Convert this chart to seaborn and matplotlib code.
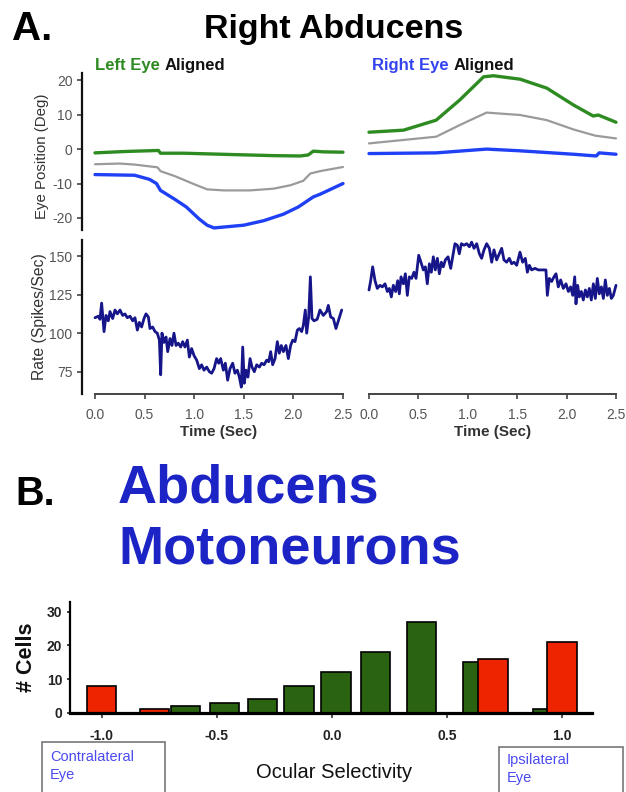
import numpy as np
import pandas as pd
import matplotlib
matplotlib.use("Agg")
import matplotlib.pyplot as plt
from matplotlib.patches import Rectangle
import seaborn as sns

# ---------------- data ----------------
# Left eye aligned: eye positions (deg)
le_green_t = [0, 0.3, 0.64, 0.66, 0.9, 1.4, 1.8, 2.07, 2.15, 2.2, 2.3, 2.5]
le_green_v = [-1.1, -0.7, -0.4, -1.2, -1.2, -1.6, -1.9, -2.0, -1.7, -0.6, -0.8, -0.9]
le_gray_t = [0, 0.25, 0.4, 0.63, 0.66, 0.8, 1.0, 1.13, 1.3, 1.56, 1.8, 1.97, 2.1, 2.17, 2.27, 2.5]
le_gray_v = [-4.4, -4.2, -4.5, -5.3, -6.4, -7.8, -10.2, -11.7, -12.0, -12.0, -11.5, -10.5, -9.2, -7.1, -6.4, -5.2]
le_blue_t = [0, 0.2, 0.4, 0.55, 0.62, 0.66, 0.8, 0.92, 1.05, 1.13, 1.2, 1.5, 1.7, 1.9, 2.05, 2.2, 2.27, 2.5]
le_blue_v = [-7.4, -7.5, -7.6, -8.8, -10, -12, -14.5, -16.8, -20.3, -22.1, -22.9, -22.1, -20.8, -18.9, -16.8, -13.9, -13.1, -10.0]

# Right eye aligned: eye positions (deg)
re_green_t = [0, 0.35, 0.68, 0.92, 1.16, 1.26, 1.53, 1.8, 2.07, 2.27, 2.32, 2.5]
re_green_v = [4.9, 5.5, 8.4, 14.3, 21.0, 21.3, 20.3, 17.7, 12.8, 9.6, 9.9, 7.8]
re_gray_t = [0, 0.68, 0.92, 1.19, 1.53, 1.8, 2.07, 2.29, 2.5]
re_gray_v = [1.65, 3.6, 7.0, 10.6, 9.9, 8.4, 5.7, 3.9, 3.1]
re_blue_t = [0, 0.68, 1.19, 1.53, 2.07, 2.3, 2.33, 2.5]
re_blue_v = [-1.3, -1.1, 0.0, -0.5, -1.5, -2.0, -1.1, -1.5]

# Firing rate (spikes/sec), left eye aligned
rl_t = [0.000, 0.034, 0.050, 0.067, 0.091, 0.111, 0.134, 0.151, 0.178, 0.202, 0.225, 0.252,
        0.279, 0.302, 0.326, 0.353, 0.380, 0.403, 0.427, 0.447, 0.470, 0.494, 0.514, 0.538,
        0.554, 0.581, 0.605, 0.628, 0.649, 0.662, 0.675, 0.696, 0.716, 0.733, 0.756, 0.776,
        0.796, 0.817, 0.840, 0.864, 0.884, 0.907, 0.931, 0.951, 0.974, 0.998, 1.025, 1.052,
        1.075, 1.099, 1.126, 1.153, 1.176, 1.200, 1.226, 1.247, 1.267, 1.294, 1.314, 1.337,
        1.361, 1.388, 1.411, 1.435, 1.455, 1.475, 1.489, 1.505, 1.522, 1.542, 1.563, 1.583,
        1.606, 1.630, 1.657, 1.680, 1.704, 1.731, 1.751, 1.771, 1.791, 1.815, 1.838, 1.858,
        1.878, 1.899, 1.925, 1.949, 1.972, 1.993, 2.016, 2.040, 2.060, 2.083, 2.100, 2.120,
        2.134, 2.154, 2.171, 2.187, 2.208, 2.240, 2.268, 2.302, 2.335, 2.352, 2.376, 2.403,
        2.429, 2.453, 2.487]
rl_v = [110, 111, 109, 119.5, 101, 111.5, 108, 114, 109.5, 115, 112.5, 115,
        111.5, 112.5, 110, 111, 108, 110, 102, 107, 104, 109.5, 112.5, 110.5,
        103, 104, 101, 100, 95.5, 73, 100, 94, 97.5, 88, 96.5, 92,
        100, 92, 93.5, 91, 94.5, 91, 95.5, 84.5, 90, 85.5, 82.5, 77,
        79.5, 76, 78, 75, 74, 77, 83.5, 80.5, 83.5, 76, 80.5, 69.5,
        77, 80.5, 74, 76, 71.5, 65, 91, 67.5, 76, 71.5, 83.5, 78,
        75, 79.5, 78, 80.5, 79.5, 82.5, 81.5, 88, 79.5, 83.5, 94.5, 87,
        92, 88, 92, 83.5, 92, 95.5, 94.5, 102, 103, 101, 105, 115,
        100, 110.5, 136.5, 109.5, 108, 109, 115, 111.5, 114, 118, 110.5, 109.5,
        103, 108, 115]

# Firing rate (spikes/sec), right eye aligned
rr_t = [0.000, 0.017, 0.037, 0.061, 0.084, 0.111, 0.135, 0.162, 0.186, 0.206, 0.226, 0.246,
        0.270, 0.290, 0.307, 0.324, 0.348, 0.368, 0.388, 0.408, 0.432, 0.455, 0.476, 0.503,
        0.526, 0.550, 0.570, 0.590, 0.611, 0.631, 0.651, 0.671, 0.692, 0.712, 0.732, 0.752,
        0.773, 0.800, 0.827, 0.847, 0.870, 0.894, 0.914, 0.935, 0.962, 0.989, 1.016, 1.039,
        1.063, 1.090, 1.117, 1.140, 1.164, 1.191, 1.218, 1.242, 1.265, 1.292, 1.319, 1.343,
        1.366, 1.393, 1.420, 1.444, 1.468, 1.495, 1.528, 1.555, 1.582, 1.603, 1.623, 1.646,
        1.680, 1.714, 1.758, 1.791, 1.805, 1.825, 1.849, 1.872, 1.893, 1.916, 1.940, 1.967,
        1.994, 2.018, 2.041, 2.062, 2.082, 2.095, 2.112, 2.129, 2.149, 2.169, 2.190, 2.210,
        2.230, 2.250, 2.271, 2.291, 2.311, 2.331, 2.352, 2.372, 2.392, 2.412, 2.433, 2.453,
        2.473, 2.500]
rr_v = [128, 134, 143, 134, 129, 131, 130, 132, 127, 129, 123.5, 131,
        127, 134, 125.5, 136.5, 132, 138.5, 124.5, 136.5, 135.5, 139.5, 135.5, 150.5,
        146, 141, 143, 132, 145, 139.5, 149.5, 141, 148.5, 138.5, 146, 143,
        147.5, 149.5, 142, 149.5, 158, 157, 151.5, 158, 157, 158, 156, 159,
        155, 158, 151.5, 148.5, 154, 158, 155, 146, 154, 147.5, 151.5, 155,
        147.5, 146, 148.5, 145, 146, 144, 152.5, 146, 148.5, 139.5, 144, 141,
        142, 141, 141, 141, 124.5, 135.5, 133.5, 136.5, 138.5, 130, 134.5, 129,
        132, 127, 130, 124.5, 136.5, 119, 131, 123.5, 127, 121.5, 128, 123.5,
        129, 121.5, 132, 122.5, 135.5, 125.5, 130, 122.5, 134.5, 124.5, 129, 122.5,
        124.5, 131]

# Histogram: ocular selectivity
green_centers = [-0.635, -0.467, -0.302, -0.142, 0.019, 0.191, 0.391, 0.636, 0.938]
green_counts = [2, 3, 4, 8, 12, 18, 27, 15, 1]
red_centers = [-1.0, -0.77, 0.70, 1.0]
red_counts = [8, 1, 16, 21]

time_ticks = [0.0, 0.5, 1.0, 1.5, 2.0, 2.5]
eye_ticks = [-20, -10, 0, 10, 20]
rate_ticks = [75, 100, 125, 150]
sel_ticks = [-1.0, -0.5, 0.0, 0.5, 1.0]

# ---------------- style ----------------
sns.set_theme(style="white")
plt.rcParams['font.family'] = ['Liberation Sans', 'DejaVu Sans']

W, H = 626, 792
fig = plt.figure(figsize=(W / 100, H / 100), dpi=100)
fig.patch.set_facecolor("white")


def ax_px(left, top, right, bottom):
    a = fig.add_axes([left / W, 1 - bottom / H, (right - left) / W, (bottom - top) / H])
    a.set_facecolor("none")
    return a


C_GREEN = "#2e8b22"
C_GRAY = "#9a9a9a"
C_BLUE = "#2040f5"
C_RATE = "#16168a"
OFF = 13 * 72 / 100  # outward spine offset in points

ax_el = ax_px(95, 73, 343, 230)
ax_er = ax_px(369, 73, 616, 230)
ax_rl = ax_px(95, 240, 343, 394)
ax_rr = ax_px(369, 240, 616, 394)
ax_h = ax_px(70, 601.7, 591.7, 712.7)


def trace(ax, t, v, color, lw):
    sns.lineplot(x=t, y=v, ax=ax, color=color, linewidth=lw, estimator=None,
                 sort=False, clip_on=False)


for ax, (gt, gv, yt, yv, bt, bv) in [
    (ax_el, (le_green_t, le_green_v, le_gray_t, le_gray_v, le_blue_t, le_blue_v)),
    (ax_er, (re_green_t, re_green_v, re_gray_t, re_gray_v, re_blue_t, re_blue_v)),
]:
    trace(ax, yt, yv, C_GRAY, 1.6)
    trace(ax, gt, gv, C_GREEN, 2.4)
    trace(ax, bt, bv, C_BLUE, 2.4)
    ax.set_xlim(0, 2.5)
    ax.set_ylim(-23.5, 22.1)
    for s in ["top", "right", "bottom"]:
        ax.spines[s].set_visible(False)
    ax.set_xticks([])
    ax.set_xlabel("")
    ax.set_ylabel("")

trace(ax_rl, rl_t, rl_v, C_RATE, 2.0)
trace(ax_rr, rr_t, rr_v, C_RATE, 2.0)
for ax in (ax_rl, ax_rr):
    ax.set_xlim(0, 2.5)
    ax.set_ylim(60.55, 160.4)
    for s in ["top", "right"]:
        ax.spines[s].set_visible(False)
    ax.spines["bottom"].set_color("#444444")
    ax.spines["bottom"].set_linewidth(1.4)
    ax.set_xticks(time_ticks)
    ax.set_xticklabels([f"{t:.1f}" for t in time_ticks])
    ax.tick_params(axis="x", bottom=True, length=3.6, width=1.2, color="#444444",
                   labelcolor="#555555", labelsize=10, pad=6.2)
    ax.set_xlabel("")
    ax.set_ylabel("")

# left y axes
for ax, ticks in [(ax_el, eye_ticks), (ax_rl, rate_ticks)]:
    ax.spines["left"].set_position(("outward", OFF))
    ax.spines["left"].set_color("#111111")
    ax.spines["left"].set_linewidth(1.6)
    ax.set_yticks(ticks)
    ax.set_yticklabels([str(t) for t in ticks])
    ax.tick_params(axis="y", left=True, length=3.6, width=1.2, color="#444444",
                   labelcolor="#555555", labelsize=10, pad=3.2)

for ax in (ax_er, ax_rr):
    ax.spines["left"].set_visible(False)
    ax.set_yticks([])

# ---------------- histogram ----------------
gw = 0.128 / np.min(np.diff(sorted(green_centers)))
rw = 0.128 / np.min(np.diff(sorted(red_centers)))
sns.barplot(x=green_centers, y=green_counts, native_scale=True, width=gw,
            color="#2b6410", saturation=1, edgecolor="black", linewidth=1.2,
            errorbar=None, ax=ax_h)
sns.barplot(x=red_centers, y=red_counts, native_scale=True, width=rw,
            color="#ee2400", saturation=1, edgecolor="black", linewidth=1.2,
            errorbar=None, ax=ax_h)
ax_h.set_xlim(-1.138, 1.130)
ax_h.set_ylim(0, 33)
for s in ["top", "right"]:
    ax_h.spines[s].set_visible(False)
ax_h.spines["left"].set_color("black")
ax_h.spines["left"].set_linewidth(1.6)
ax_h.spines["bottom"].set_color("black")
ax_h.spines["bottom"].set_linewidth(2.3)
ax_h.spines["bottom"].set_zorder(5)
ax_h.set_xticks(sel_ticks)
ax_h.set_xticklabels([f"{t:.1f}" for t in sel_ticks], fontweight="bold")
ax_h.set_yticks([0, 10, 20, 30])
ax_h.set_yticklabels(["0", "10", "20", "30"], fontweight="bold")
ax_h.tick_params(axis="x", bottom=True, length=3.6, width=1.2, color="#333333",
                 labelcolor="#222222", labelsize=10, pad=8)
ax_h.tick_params(axis="y", left=True, length=2.5, width=1.2, color="#222222",
                 labelcolor="#222222", labelsize=10, pad=3)
ax_h.set_xlabel("")
ax_h.set_ylabel("")


# ---------------- texts ----------------
def ftxt(x, y, s, **kw):
    return fig.text(x / W, 1 - y / H, s, **kw)


ftxt(12, 40, "A.", fontsize=29, fontweight="bold", color="black", ha="left", va="baseline")
ftxt(334, 38, "Right Abducens", fontsize=24.5, fontweight="bold", color="black",
     ha="center", va="baseline")

fig.canvas.draw()
r = fig.canvas.get_renderer()
for x0, word, col in [(95, "Left Eye ", C_GREEN), (372, "Right Eye ", "#3344ee")]:
    tt = ftxt(x0, 70, word, fontsize=12, fontweight="bold", color=col,
              ha="left", va="baseline")
    bb = tt.get_window_extent(r)
    fig.text(bb.x1 / W, 1 - 70 / H, "Aligned", fontsize=12, fontweight="bold",
             color="#111111", ha="left", va="baseline")

ftxt(41.7, 156.5, "Eye Position (Deg)", fontsize=10.8, color="#333333", rotation=90,
     ha="center", va="center")
ftxt(39.7, 317, "Rate (Spikes/Sec)", fontsize=11.3, color="#333333", rotation=90,
     ha="center", va="center")
ftxt(219, 432, "Time (Sec)", fontsize=11, fontweight="bold", color="#333333",
     ha="center", va="center")
ftxt(492.5, 432, "Time (Sec)", fontsize=11, fontweight="bold", color="#333333",
     ha="center", va="center")

ftxt(15, 505, "B.", fontsize=28.5, fontweight="bold", color="black", ha="left", va="baseline")
ftxt(118, 503, "Abducens", fontsize=39, fontweight="bold", color="#1c24c6",
     ha="left", va="baseline")
ftxt(118, 563, "Motoneurons", fontsize=39, fontweight="bold", color="#1c24c6",
     ha="left", va="baseline")

ftxt(26.7, 657, "# Cells", fontsize=15.5, fontweight="bold", color="#111111", rotation=90,
     ha="center", va="center")
ftxt(334, 772, "Ocular Selectivity", fontsize=14.5, color="#111111", ha="center", va="center")

for (x0, y0, x1, y1) in [(41.7, 741.7, 165, 800), (499, 746.7, 622.7, 800)]:
    fig.patches.append(Rectangle((x0 / W, 1 - y1 / H), (x1 - x0) / W, (y1 - y0) / H,
                                 transform=fig.transFigure, fill=False,
                                 edgecolor="#777777", linewidth=1.2, clip_on=False))

ftxt(50, 756.7, "Contralateral", fontsize=10.5, color="#4a4af0", ha="left", va="center")
ftxt(50, 775, "Eye", fontsize=10.5, color="#4a4af0", ha="left", va="center")
ftxt(507, 760, "Ipsilateral", fontsize=10.5, color="#4a4af0", ha="left", va="center")
ftxt(507, 777.7, "Eye", fontsize=10.5, color="#4a4af0", ha="left", va="center")

fig.savefig("out.png", dpi=100)
